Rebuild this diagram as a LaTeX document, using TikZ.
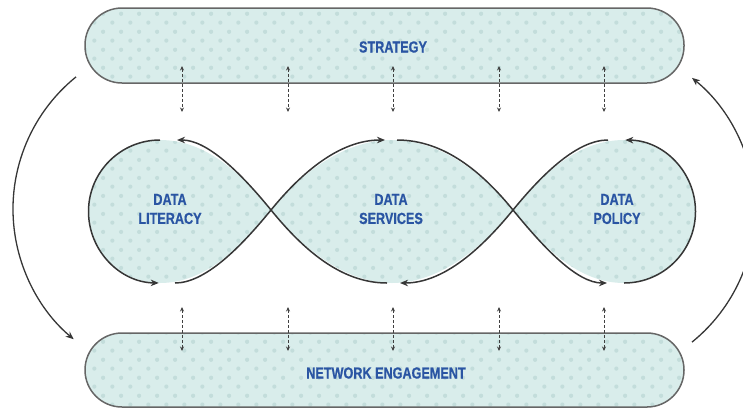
\documentclass[tikz,border=0pt]{standalone}
\usepackage{fontspec}
\newfontfamily\lblfont[FakeStretch=0.79,BoldFont={Liberation Sans Bold},BoldFeatures={FakeStretch=0.79,FakeBold=0.6}]{Liberation Sans}
\usetikzlibrary{arrows.meta,patterns}
\definecolor{tealfill}{HTML}{D9EDEB}
\definecolor{tealdot}{HTML}{C3DDDB}
\definecolor{lblblue}{HTML}{2A55A3}
\definecolor{bordergray}{HTML}{666666}
\definecolor{curvegray}{HTML}{363636}
\pgfdeclarepatternformonly{tealdots}{\pgfqpoint{0pt}{0pt}}{\pgfqpoint{18.2pt}{18.2pt}}{\pgfqpoint{18.2pt}{18.2pt}}{%
  \pgfpathcircle{\pgfqpoint{4.55pt}{4.55pt}}{2.2pt}%
  \pgfpathcircle{\pgfqpoint{13.65pt}{13.65pt}}{2.2pt}%
  \pgfusepath{fill}}
\tikzset{
  bar/.style={rectangle, rounded corners=37pt, minimum width=599pt, inner sep=0pt,
    fill=tealfill, postaction={pattern=tealdots, pattern color=tealdot},
    postaction={draw=bordergray, line width=1.5pt}},
  lbl/.style={text=lblblue, font=\lblfont\bfseries\fontsize{16}{19}\selectfont, align=center, inner sep=0pt},
  dasharrow/.style={draw=black!75, line width=1pt, dash pattern=on 3pt off 2pt,
    {Stealth[length=4.5pt,width=4pt]}-{Stealth[length=4.5pt,width=4pt]}},
  loopline/.style={draw=curvegray, line width=1.5pt, -{Stealth[length=8pt,width=6.5pt,inset=2.5pt]}},
  bigarc/.style={draw=curvegray, line width=1.3pt, -{Stealth[length=8pt,width=6.5pt,inset=2.5pt]}},
  eightfill/.style={fill=tealfill, postaction={pattern=tealdots, pattern color=tealdot}}
}
\begin{document}
\begin{tikzpicture}[x=1pt,y=-1pt]
\useasboundingbox (0,0) rectangle (743,408);
\clip (0,0) rectangle (743,408);

% bars
\node[bar, minimum height=75pt] (strategy) at (384.5,45.5) {};
\node[bar, minimum height=74pt] (network) at (384.5,370) {};
\node[lbl] (strategyLbl) at (393,47) {STRATEGY};
\node[lbl] (networkLbl) at (386,373) {NETWORK ENGAGEMENT};

% figure-eight fill
\path[eightfill] (271,210) .. controls (240,172) and (205,140) .. (160,140)
  arc[start angle=-90, end angle=-270, radius=71.5]
  .. controls (205,283) and (240,248) .. (271,210)
  .. controls (302,172) and (345,140) .. (392,140)
  .. controls (439,140) and (482,172) .. (513,210)
  .. controls (544,248) and (579,283) .. (624,283)
  arc[start angle=90, end angle=-90, radius=71.5]
  .. controls (579,140) and (544,172) .. (513,210)
  .. controls (482,248) and (439,283) .. (392,283)
  .. controls (345,283) and (302,248) .. (271,210) -- cycle;

% figure-eight strokes
\coordinate (cA) at (271,210);
\coordinate (cB) at (513,210);
\draw[loopline] (387,283) .. controls (340,283) and (302,248) .. (cA)
  .. controls (240,172) and (207,140) .. (177,140);
\draw[loopline] (160,140) arc[start angle=-90, end angle=-269, radius=71.5];
\draw[loopline] (175,283) .. controls (205,283) and (240,248) .. (cA)
  .. controls (302,172) and (340,140) .. (385,140);
\draw[loopline] (397,140) .. controls (444,140) and (482,172) .. (cB)
  .. controls (544,248) and (577,283) .. (607,283);
\draw[loopline] (624,283) arc[start angle=90, end angle=-89, radius=71.5];
\draw[loopline] (608,140) .. controls (578,140) and (544,172) .. (cB)
  .. controls (482,248) and (444,283) .. (400,283);

\node[lbl] (literacy) at (170,209) {DATA\\LITERACY};
\node[lbl] (services) at (391,209) {DATA\\SERVICES};
\node[lbl] (policy) at (617,209) {DATA\\POLICY};

% dashed arrows
\foreach \x [count=\i] in {182,288,393,499,604}{
  \coordinate (t\i a) at (\x,66);
  \coordinate (t\i b) at (\x,112);
  \coordinate (b\i a) at (\x,307);
  \coordinate (b\i b) at (\x,351);
  \draw[dasharrow] (t\i a) -- (t\i b);
  \draw[dasharrow] (b\i a) -- (b\i b);
}

% big arcs
\coordinate (arcLtop) at (76,76.9);
\coordinate (arcRbot) at (692,342.1);
\draw[bigarc] (arcLtop) arc[start angle=231, end angle=130, radius=170];
\draw[bigarc] (arcRbot) arc[start angle=51, end angle=-51, radius=170];
\end{tikzpicture}
\end{document}
